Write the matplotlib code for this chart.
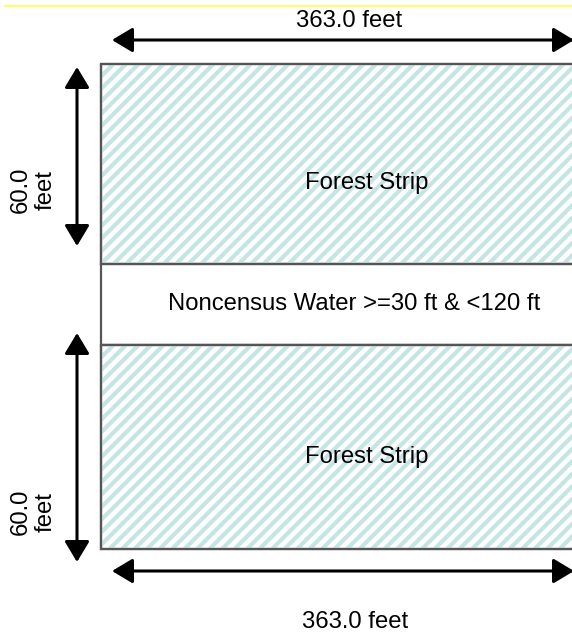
import matplotlib.pyplot as plt
from matplotlib.patches import Rectangle, FancyArrowPatch

# diagram content
width_label = "363.0 feet"
strip_depth_label = "60.0\nfeet"
band_labels = ["Forest Strip", "Noncensus Water >=30 ft & <120 ft", "Forest Strip"]
band_hatched = [True, False, True]

# layout in pixels (diagram is not to scale)
W, H = 572, 633
left, right = 101, 576
band_edges = [64, 264, 345, 549]
label_pos = [(367, 183), (354, 304), (367, 457)]

plt.rcParams['font.family'] = ['Liberation Sans', 'DejaVu Sans']

fig = plt.figure(figsize=(W / 100, H / 100), dpi=100)
ax = fig.add_axes([0, 0, 1, 1])
ax.set_xlim(0, W)
ax.set_ylim(H, 0)
ax.axis('off')

# thin yellow line along the top
ax.plot([5, W], [6, 6], color='#ffff60', lw=1.4)

for i, lab in enumerate(band_labels):
    top, bot = band_edges[i], band_edges[i + 1]
    rect = Rectangle((left, top), right - left, bot - top, facecolor='white',
                     edgecolor='#555555', lw=1.6, zorder=2)
    ax.add_patch(rect)
    if band_hatched[i]:
        clip = Rectangle((left, top), right - left, bot - top, transform=ax.transData)
        step = 12.5
        x0 = left - (bot - top)
        while x0 < right:
            ln, = ax.plot([x0, x0 + (bot - top)], [bot, top], color='#c4e5e3',
                          lw=3.0, solid_capstyle='butt', zorder=2.5)
            ln.set_clip_path(clip)
            x0 += step
        ax.add_patch(Rectangle((left, top), right - left, bot - top, facecolor='none',
                               edgecolor='#555555', lw=1.6, zorder=3))
    ax.text(label_pos[i][0], label_pos[i][1], lab, ha='center', va='center',
            fontsize=17.2, color='black', zorder=4)


def arrow(p1, p2):
    a = FancyArrowPatch(p1, p2, arrowstyle='<|-|>,head_length=0.7,head_width=0.42',
                        mutation_scale=18, color='black', lw=2.2, zorder=5,
                        shrinkA=0, shrinkB=0)
    ax.add_patch(a)


# width arrows
arrow((112, 40), (574, 40))
arrow((112, 571), (574, 571))
ax.text(349, 21, width_label, ha='center', va='center', fontsize=17.2)
ax.text(355, 622, width_label, ha='center', va='center', fontsize=17.2)

# depth arrows for the forest strips
arrow((77, 67), (77, 246))
arrow((77, 333), (77, 562))
ax.text(33, 190, strip_depth_label, ha='center', va='center', rotation=90,
        fontsize=17.2, linespacing=1.15, multialignment='center')
ax.text(33, 512, strip_depth_label, ha='center', va='center', rotation=90,
        fontsize=17.2, linespacing=1.15, multialignment='center')

fig.savefig('out.png', dpi=100)
